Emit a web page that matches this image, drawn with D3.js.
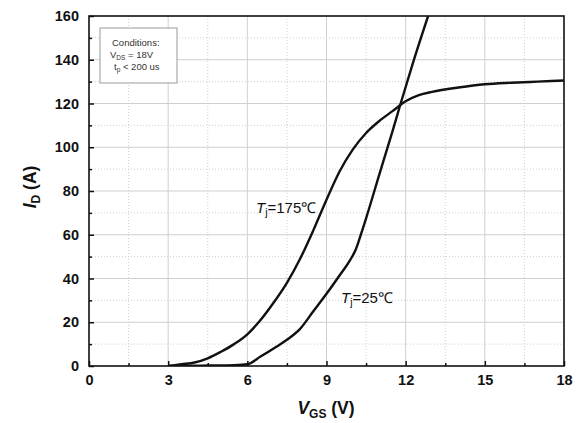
<!DOCTYPE html>
<html><head><meta charset="utf-8">
<script src="https://cdn.jsdelivr.net/npm/d3@7"></script>
<style>body{margin:0;background:#fff}svg{display:block}</style>
</head><body>
<svg id="c" width="577" height="423"></svg>
<script>
const xTicks = [0, 3, 6, 9, 12, 15, 18];
const yTicks = [0, 20, 40, 60, 80, 100, 120, 140, 160];
const xMinor = [1.5, 4.5, 7.5, 10.5, 13.5, 16.5];
const yMinor = [10, 30, 50, 70, 90, 110, 130, 150];
const tj25 = [[3,0],[4.5,0.2],[5.5,0.4],[6,0.8],[6.5,4.3],[7.1,8.8],[7.5,12],[8,17],[8.5,25],[9,33],[9.5,41.5],[9.9,48.5],[10.1,53],[10.3,60],[10.5,67.5],[11,87.5],[11.5,107.3],[11.81,120],[12.3,139.5],[12.85,160]];
const tj175 = [[3,0],[3.5,0.8],[4,1.6],[4.5,3.5],[5,6.5],[5.5,10],[6,14.5],[6.5,21],[7,29],[7.5,38],[8,49],[8.5,62],[9,76],[9.5,89],[10,99],[10.5,106.5],[11,112],[11.5,116.5],[12,121],[12.5,123.8],[13,125.3],[14,127.3],[15,128.8],[16,129.5],[17,130],[18,130.5]];
const conditions = ["Conditions:", "V_DS =  18V", "t_p  < 200 us"];

const svg = d3.select("#c");
const L = 89, R = 564, T = 16, B = 366;
const x = d3.scaleLinear().domain([0, 18]).range([L, R]);
const y = d3.scaleLinear().domain([0, 160]).range([B, T]);
const FF = "Liberation Sans, Arial, sans-serif";

// grid
const g = svg.append("g");
g.selectAll(".gx").data(xTicks.slice(1, -1)).join("line")
  .attr("x1", d => x(d)).attr("x2", d => x(d)).attr("y1", T).attr("y2", B)
  .attr("stroke", "#cfcfcf").attr("stroke-width", 1);
g.selectAll(".gy").data(yTicks.slice(1, -1)).join("line")
  .attr("y1", d => y(d)).attr("y2", d => y(d)).attr("x1", L).attr("x2", R)
  .attr("stroke", "#cfcfcf").attr("stroke-width", 1);
g.selectAll(".mx").data(xMinor).join("line")
  .attr("x1", d => x(d)).attr("x2", d => x(d)).attr("y1", T).attr("y2", B)
  .attr("stroke", "#cfcfcf").attr("stroke-width", 1).attr("stroke-dasharray", "1,2");
g.selectAll(".my").data(yMinor).join("line")
  .attr("y1", d => y(d)).attr("y2", d => y(d)).attr("x1", L).attr("x2", R)
  .attr("stroke", "#cfcfcf").attr("stroke-width", 1).attr("stroke-dasharray", "1,2");

// legend box
const lg = svg.append("g");
lg.append("rect").attr("x", 100).attr("y", 28).attr("width", 77).attr("height", 55)
  .attr("fill", "#fff").attr("stroke", "#999").attr("stroke-width", 1);
const lt = lg.append("g").attr("font-family", FF).attr("font-size", 9.5).attr("fill", "#333");
lt.append("text").attr("x", 112).attr("y", 46).text(conditions[0]);
const t2 = lt.append("text").attr("x", 110).attr("y", 58);
t2.append("tspan").text("V");
t2.append("tspan").attr("font-size", 6.5).attr("dy", 2).text("DS");
t2.append("tspan").attr("dy", -2).text(" =  18V");
const t3 = lt.append("text").attr("x", 114).attr("y", 70);
t3.append("tspan").text("t");
t3.append("tspan").attr("font-size", 6.5).attr("dy", 2).text("p");
t3.append("tspan").attr("dy", -2).text("  < 200 us");

// curves
const line = d3.line().x(d => x(d[0])).y(d => y(d[1])).curve(d3.curveMonotoneX);
const cg = svg.append("g");
cg.append("defs").append("clipPath").attr("id", "clp").append("rect")
  .attr("x", L).attr("y", T).attr("width", R - L).attr("height", B - T);
[tj25, tj175].forEach(s => {
  cg.append("path").datum(s).attr("d", line).attr("fill", "none")
    .attr("stroke", "#111").attr("stroke-width", 2.4).attr("clip-path", "url(#clp)");
});

// axes
const xa = svg.append("g").attr("transform", `translate(0,${B})`)
  .call(d3.axisBottom(x).tickValues(xTicks).tickSize(-5).tickPadding(9).tickFormat(d3.format("d")));
const xm = svg.append("g").attr("transform", `translate(0,${B})`)
  .call(d3.axisBottom(x).tickValues(xMinor).tickSize(-3).tickFormat(""));
const ya = svg.append("g").attr("transform", `translate(${L},0)`)
  .call(d3.axisLeft(y).tickValues(yTicks).tickSize(-5).tickPadding(10).tickFormat(d3.format("d")));
const ym = svg.append("g").attr("transform", `translate(${L},0)`)
  .call(d3.axisLeft(y).tickValues(yMinor).tickSize(-3).tickFormat(""));
[xa, xm, ya, ym].forEach(a => {
  a.select(".domain").remove();
  a.selectAll("line").attr("stroke", "#111").attr("stroke-width", 1.5);
  a.selectAll("text").attr("font-family", FF)
    .attr("font-size", 14.5).attr("font-weight", "bold").attr("fill", "#111");
});
// frame
svg.append("rect").attr("x", L).attr("y", T).attr("width", R - L).attr("height", B - T)
  .attr("fill", "none").attr("stroke", "#111").attr("stroke-width", 1.6);

// curve labels
function tjLabel(xp, yp, temp) {
  const t = svg.append("text").attr("x", xp).attr("y", yp)
    .attr("font-family", FF).attr("font-size", 15).attr("fill", "#111");
  t.append("tspan").attr("font-style", "italic").text("T");
  t.append("tspan").attr("font-size", 10.5).attr("dy", 3).text("j");
  t.append("tspan").attr("dy", -3).text("=" + temp + "℃");
}
tjLabel(256, 213, 175);
tjLabel(341, 303, 25);

// axis titles
const xt = svg.append("text").attr("x", 326).attr("y", 414).attr("text-anchor", "middle")
  .attr("font-family", FF).attr("font-size", 17.5)
  .attr("font-weight", "bold").attr("fill", "#111");
xt.append("tspan").attr("font-style", "italic").text("V");
xt.append("tspan").attr("font-size", 12).attr("dy", 4).text("GS");
xt.append("tspan").attr("dy", -4).text(" (V)");
const yt = svg.append("text").attr("transform", "translate(36,187) rotate(-90)").attr("text-anchor", "middle")
  .attr("font-family", FF).attr("font-size", 17.5)
  .attr("font-weight", "bold").attr("fill", "#111");
yt.append("tspan").attr("font-style", "italic").text("I");
yt.append("tspan").attr("font-size", 12).attr("dy", 4).text("D");
yt.append("tspan").attr("dy", -4).text(" (A)");
</script>
</body></html>
